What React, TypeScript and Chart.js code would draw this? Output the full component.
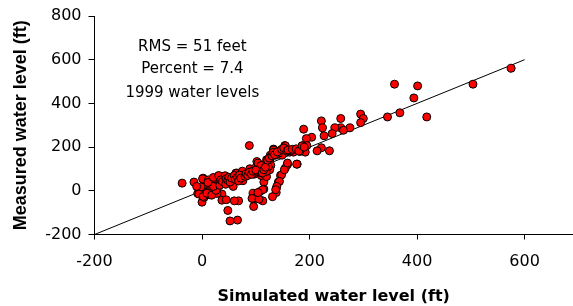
import React, { useEffect, useRef } from "react";
import { Chart, registerables } from "chart.js";

Chart.register(...registerables);

// Simulated (x) vs measured (y) water levels, feet
const simulated: number[] = [
  575, 504, 358, 401, 394, 418, 368, 345, 295, 300, 295, 275, 258, 258, 263, 247, 242, 222, 224, 227,
  204, 194, 189, 195, 187, 185, 192, 222, 214, 237, 177, 159, 155, 154, 145, 149, 133, 137, 127, 126,
  128, 126, 163, 170, 166, 88, 182,
  146, 142, 138, 138, 131, 148, 153, 159, 176, 144, 139, 137,
  115, 110, 106, 115, 103, 95, 96, 113, 96, 93, 106, 108, 113, 120, 119, 111, 104,
  68, 60, 48, 52, 66, 37, 37, 45, 0, -37, -15, 58,
  2, 10, 26, 26, 40, 46, 63, 77, 76, 89, 102, 108, 97, 123, 133, 142, 155,
  0, 2, 5, -3, 8, 10, 12, 15, 3, -5, 6, 18, 20, 22, 25, 0, 4, -8, 10, 14, 28, 16, -2, 7, 24, 30, 1, 12, 20,
  -10, -6, 2, 9, 18, 26, 21, 11, 21, 31, 43, 56, 65, 75, 83, 96, 99, 104, 110, 120,
  33, 35, 38, 44, 45, 48, 50, 52, 55, 60, 62, 66, 68, 70, 72, 80, 82, 85, 88, 92, 95, 100, 112, 115, 118,
  122, 125, 130, 132, 135, 140, 148, 152, 158, 160, 168, 175, 180, 186, 190,
];

const measured: number[] = [
  561, 488, 488, 480, 425, 338, 357, 338, 351, 331, 312, 288, 331, 288, 277, 288, 262, 320, 288, 252,
  245, 239, 282, 207, 206, 184, 177, 197, 183, 183, 122, 120, 104, 207, 183, 163, 191, 163, 163, 142,
  116, 96, 177, 177, 184, 207, 180,
  70, 40, 8, -8, -27, 73, 96, 127, 122, 43, 20, 5,
  40, 70, 85, 8, -11, -11, -37, -46, -72, -35, -38, -3, 5, 65, 88, 81, -8,
  -46, -46, -90, -138, -134, -15, -43, -41, -52, 35, 40, 20,
  58, 35, 35, 58, 65, 38, 81, 73, 46, 101, 134, 119, 76, 111, 187, 172, 206,
  0, 5, -5, 10, 12, -10, 20, 5, 25, -8, 30, 15, -5, 28, 10, -20, -30, -12, 40, -18, -12, 32, 18, -15, 45, 20, 55, 50, 52,
  20, -15, -26, -11, -20, 2, 20, 38, 61, 70, 69, 50, 81, 90, 70, 81, 104, 127, 116, 142,
  25, 50, 42, 30, 55, 48, 62, 40, 58, 70, 52, 62, 45, 72, 58, 66, 78, 70, 85, 75, 90, 95, 82, 96, 108,
  140, 150, 160, 175, 165, 178, 190, 196, 182, 187, 190, 192, 182, 206, 200,
];

const lineX: number[] = [-200, 600];
const lineY: number[] = [-200, 600];

const xTicks: number[] = [-200, 0, 200, 400, 600];
const annotationLines: string[] = ["RMS = 51 feet", "Percent = 7.4", "1999 water levels"];
const annotationX = -18;
const annotationY: number[] = [658, 555, 449];

export default function App() {
  const ref = useRef<HTMLCanvasElement | null>(null);

  useEffect(() => {
    if (!ref.current) return;
    const points = simulated.map((x, i) => ({ x, y: measured[i] }));
    const linePts = lineX.map((x, i) => ({ x, y: lineY[i] }));

    const annotationPlugin = {
      id: "annot",
      afterDatasetsDraw(chart: any) {
        const { ctx, scales } = chart;
        ctx.save();
        ctx.fillStyle = "#000";
        ctx.font = "15px 'DejaVu Sans'";
        ctx.textAlign = "center";
        ctx.textBaseline = "middle";
        annotationLines.forEach((t, i) => {
          ctx.fillText(t, scales.x.getPixelForValue(annotationX), scales.y.getPixelForValue(annotationY[i]));
        });
        ctx.restore();
      },
    };

    const chart = new Chart(ref.current, {
      type: "scatter",
      data: {
        datasets: [
          {
            type: "scatter",
            data: points,
            backgroundColor: "#FF0000",
            borderColor: "#000000",
            borderWidth: 1,
            pointRadius: 4,
            order: 0,
          } as any,
          {
            type: "line",
            data: linePts,
            borderColor: "#000000",
            borderWidth: 1,
            pointRadius: 0,
            showLine: true,
            fill: false,
            order: 1,
          } as any,
        ],
      },
      options: {
        animation: false,
        responsive: false,
        maintainAspectRatio: false,
        layout: { autoPadding: false, padding: { top: 16, right: 0, left: 0, bottom: 0 } },
        plugins: { legend: { display: false }, tooltip: { enabled: false } },
        scales: {
          x: {
            type: "linear",
            min: -200,
            max: 690,
            afterBuildTicks: (s: any) => {
              s.ticks = xTicks.map((v) => ({ value: v }));
            },
            afterFit: (s: any) => {
              s.height = 71.5;
              s.paddingRight = 0;
              s.paddingLeft = 0;
            },
            border: { display: true, color: "#000", width: 1 },
            grid: { drawOnChartArea: false, drawTicks: true, tickLength: 5, color: "#000" },
            ticks: {
              color: "#000",
              font: { family: "'DejaVu Sans'", size: 16 },
              padding: 13,
              maxRotation: 0,
            },
            title: {
              display: true,
              text: "Simulated water level (ft)",
              color: "#000",
              font: { family: "'DejaVu Sans'", size: 16, weight: "bold" },
              padding: { top: 0, bottom: 0 },
            },
          },
          y: {
            type: "linear",
            min: -200,
            max: 800,
            afterFit: (s: any) => {
              s.width = 94.5;
              s.paddingTop = 0;
              s.paddingBottom = 0;
            },
            border: { display: true, color: "#000", width: 1 },
            grid: { drawOnChartArea: false, drawTicks: true, tickLength: 6, color: "#000" },
            ticks: {
              color: "#000",
              stepSize: 200,
              font: { family: "'DejaVu Sans'", size: 16 },
              padding: 7,
            },
            title: {
              display: true,
              text: "Measured water level (ft)",
              color: "#000",
              font: { family: "'Liberation Sans'", size: 18, weight: "bold" },
              padding: { top: 10, bottom: 0 },
            },
          },
        },
      },
      plugins: [annotationPlugin],
    });
    return () => chart.destroy();
  }, []);

  return (
    <div style={{ position: "fixed", left: 0, top: 0, width: 573, height: 306, background: "#fff" }}>
      <canvas ref={ref} width={573} height={306} style={{ display: "block" }} />
    </div>
  );
}
